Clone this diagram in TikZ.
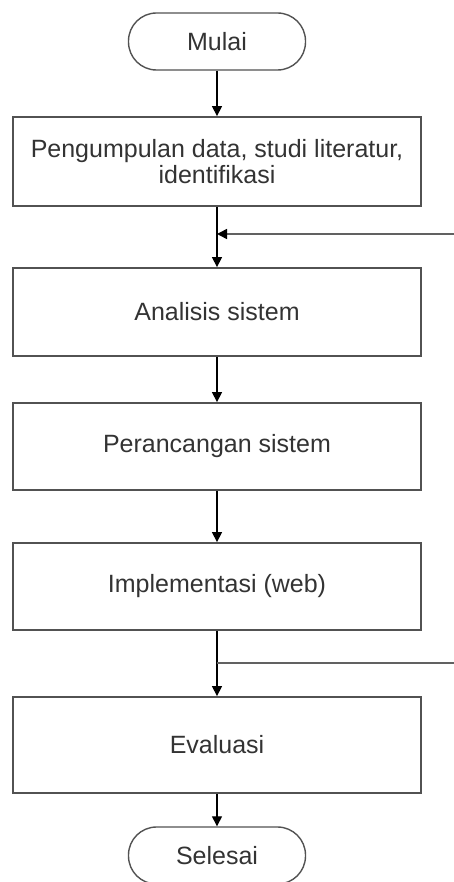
\documentclass[tikz,border=0pt]{standalone}
\usepackage{fontspec}
\setmainfont{Liberation Sans}
\usetikzlibrary{arrows.meta}
\begin{document}
\begin{tikzpicture}[x=1pt,y=1pt,
  txt/.style={font=\fontsize{25}{25.5}\selectfont, text=black!80},
  procbox/.style={txt, draw=black!68, line width=1.8pt, minimum width=408pt, inner sep=0pt, align=center},
  term/.style={txt, draw=black!68, line width=1.4pt, minimum width=177pt, minimum height=57pt, rounded corners=28pt, inner sep=0pt},
  arr/.style={draw=black, line width=1.3pt, -{Triangle[width=10pt,length=10pt]}},
  ln/.style={draw=black!62, line width=1.6pt}]
\useasboundingbox (0,0) rectangle (454,-882);
\node[term] (start) at (217,-41.5) {Mulai};
\node[procbox, minimum height=89pt] (b1) at (217,-161.5) {Pengumpulan data, studi literatur,\\identifikasi};
\node[procbox, minimum height=88pt] (b2) at (217,-312) {Analisis sistem};
\node[procbox, minimum height=87pt] (b3) at (217,-446.5) {Perancangan sistem};
\node[procbox, minimum height=87pt] (b4) at (217,-586.5) {Implementasi (web)};
\node[procbox, minimum height=96pt] (b5) at (217,-745) {Evaluasi};
\node[term] (stop) at (217,-855.5) {Selesai};
\coordinate (fb1) at (454,-234);
\coordinate (fb2) at (454,-663);
\draw[arr] (start) -- (b1);
\draw[arr] (b1) -- (b2);
\draw[arr] (b2) -- (b3);
\draw[arr] (b3) -- (b4);
\draw[arr] (b4) -- (b5);
\draw[arr] (b5) -- (stop);
\draw[ln, -{Triangle[width=10pt,length=10pt,color=black]}] (fb1) -- (fb1 -| b1.south);
\draw[ln] (fb2 -| b4.south) -- (fb2);
\end{tikzpicture}
\end{document}
